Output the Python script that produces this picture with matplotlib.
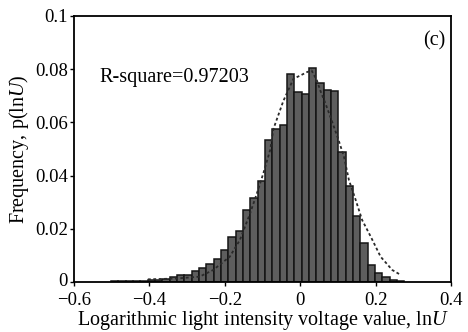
import numpy as np
import matplotlib
matplotlib.use("Agg")
import matplotlib.pyplot as plt
from matplotlib.transforms import ScaledTranslation

plt.rcParams['font.family'] = ['Liberation Serif', 'DejaVu Serif']
plt.rcParams['mathtext.fontset'] = 'custom'
plt.rcParams['mathtext.rm'] = 'Liberation Serif'
plt.rcParams['mathtext.it'] = 'Liberation Serif:italic'

# Histogram data (40 bins)
bin_start = -0.502
bin_stop = 0.276
freq = [0.0004, 0.0004, 0.0004, 0.0004, 0.0005, 0.0006, 0.0008, 0.0012, 0.0019, 0.0027,
        0.0027, 0.0040, 0.0054, 0.0069, 0.0085, 0.0122, 0.0168, 0.0191, 0.0269, 0.0314,
        0.0380, 0.0534, 0.0574, 0.0589, 0.0783, 0.0714, 0.0706, 0.0805, 0.0748, 0.0720,
        0.0716, 0.0488, 0.0360, 0.0248, 0.0147, 0.0064, 0.0034, 0.0018, 0.0008, 0.0004]

# Fitted curve
fit_x = [-0.404, -0.33, -0.267, -0.231, -0.187, -0.16, -0.133, -0.115, -0.098, -0.08,
         -0.071, -0.045, -0.018, 0.0, 0.018, 0.03, 0.044, 0.053, 0.067, 0.08, 0.1,
         0.116, 0.129, 0.147, 0.164, 0.187, 0.213, 0.244, 0.267]
fit_y = [0.001, 0.0013, 0.002, 0.0045, 0.0095, 0.0158, 0.0258, 0.0333, 0.0408, 0.0495,
         0.0576, 0.068, 0.0764, 0.0776, 0.0789, 0.0795, 0.0758, 0.072, 0.067, 0.062, 0.054,
         0.047, 0.0383, 0.0308, 0.0233, 0.017, 0.0095, 0.0045, 0.0026]

xticks = [-0.6, -0.4, -0.2, 0, 0.2, 0.4]
xticklabels = ['\u22120.6', '\u22120.4', '\u22120.2', '0', '0.2', '0.4']
yticks = [0, 0.02, 0.04, 0.06, 0.08, 0.1]
yticklabels = ['0', '0.02', '0.04', '0.06', '0.08', '0.1']

edges = np.linspace(bin_start, bin_stop, len(freq) + 1)
width = edges[1] - edges[0]

fig = plt.figure(figsize=(4.68, 3.32), dpi=100)
ax = fig.add_axes([0.158, 0.1506, 0.806, 0.8014])

ax.bar(edges[:-1], freq, width=width, align='edge', color='#5e5e5e',
       edgecolor='#151515', linewidth=1.1, zorder=2)
ax.plot(fit_x, fit_y, linestyle=(0, (1.6, 1.4)), color='#2a2a2a', linewidth=1.3, zorder=3)

ax.set_xlim(-0.6, 0.4)
ax.set_ylim(0, 0.1)
ax.set_xticks(xticks)
ax.set_xticklabels(xticklabels)
ax.set_yticks(yticks)
ax.set_yticklabels(yticklabels)
ax.tick_params(axis='both', labelsize=13.5, direction='out', length=3, width=1)
ax.tick_params(axis='x', pad=4)
ax.tick_params(axis='y', pad=1.5)
for s in ax.spines.values():
    s.set_linewidth(1.3)

# nudge the y "0" label up slightly so it clears the x tick labels
lbl0 = ax.get_yticklabels()[0]
lbl0.set_transform(lbl0.get_transform() + ScaledTranslation(0, 3 / 100, fig.dpi_scale_trans))

ax.set_xlabel('Logarithmic light intensity voltage value, ln$\\mathit{U}$', fontsize=14.5, labelpad=0)
ax.set_ylabel('Frequency, p(ln$\\mathit{U}$)', fontsize=14.5, labelpad=3)

ax.text(-0.533, 0.0768, 'R-square=0.97203', fontsize=14.5, va='center', ha='left')
ax.text(0.385, 0.0905, '(c)', fontsize=14.5, va='center', ha='right')

fig.savefig('out.png', dpi=100)
